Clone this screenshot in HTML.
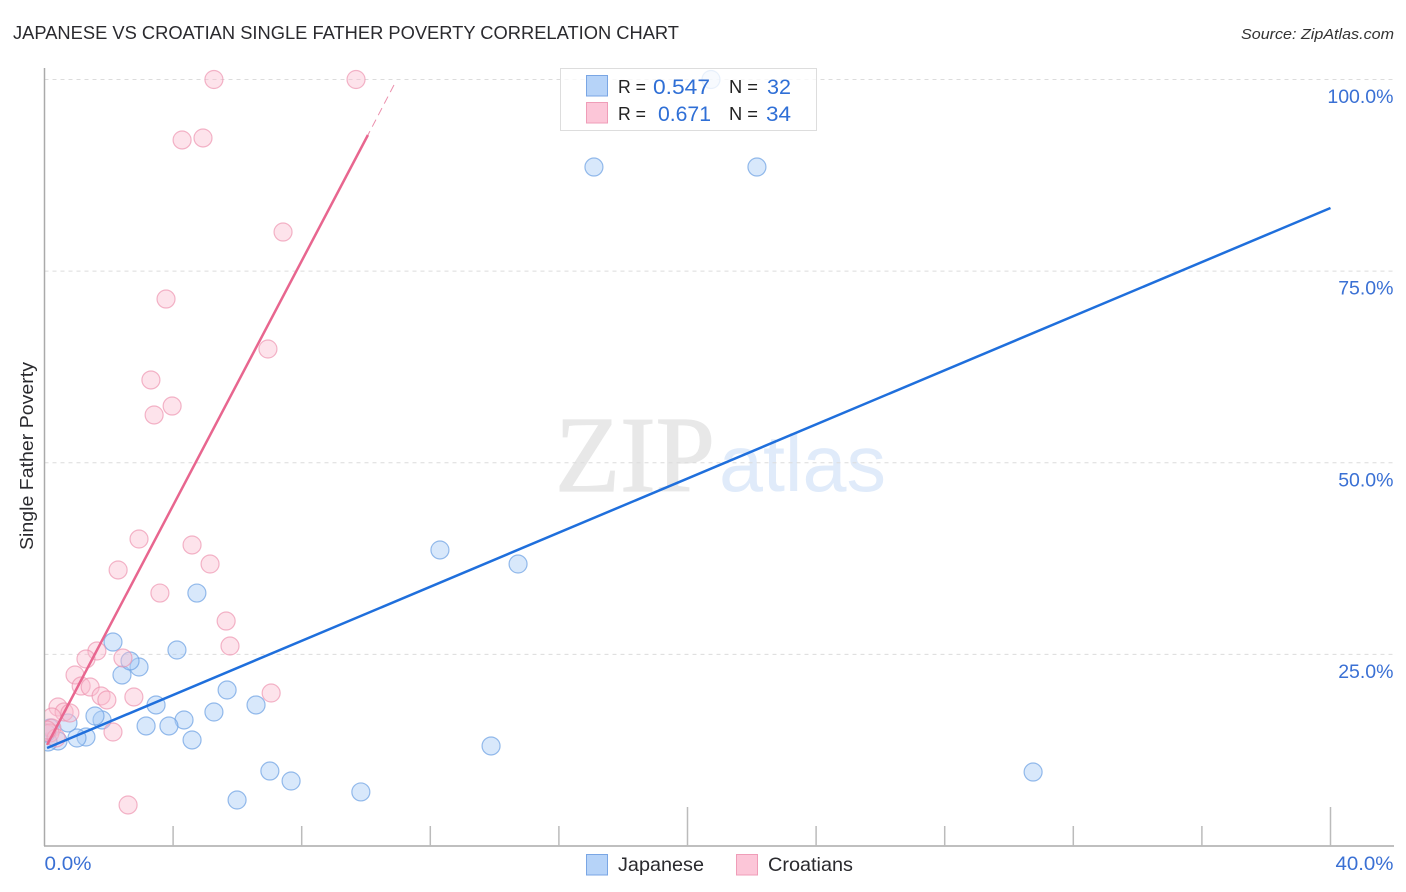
<!DOCTYPE html>
<html lang="en">
<head>
<meta charset="utf-8">
<title>Japanese vs Croatian Single Father Poverty Correlation Chart</title>
<style>
html,body{margin:0;padding:0;background:#fff;}
svg{display:block;font-family:"Liberation Sans",sans-serif;}
</style>
</head>
<body>
<svg id="chart" width="1406" height="892" viewBox="0 0 1406 892" xmlns="http://www.w3.org/2000/svg">
  <defs>
    <clipPath id="plot-clip"><rect x="45" y="60" width="1360" height="786"/></clipPath>
  </defs>
  <rect x="0" y="0" width="1406" height="892" fill="#ffffff"/>
  <text x="13" y="39" font-size="18.5" fill="#2a2a2e" textLength="666" lengthAdjust="spacingAndGlyphs">JAPANESE VS CROATIAN SINGLE FATHER POVERTY CORRELATION CHART</text>
  <text x="1394" y="39" font-size="15" font-style="italic" fill="#333" text-anchor="end" textLength="153" lengthAdjust="spacingAndGlyphs">Source: ZipAtlas.com</text>
  <text transform="translate(33,456) rotate(-90)" font-size="18.5" fill="#2a2a2e" text-anchor="middle" textLength="188" lengthAdjust="spacingAndGlyphs">Single Father Poverty</text>

  <g>
    <text x="555" y="491" style="font-family:'Liberation Serif',serif" font-size="108" fill="#e8e8e8" stroke="#e8e8e8" stroke-width="1.2" textLength="160" lengthAdjust="spacingAndGlyphs">ZIP</text>
    <text x="719" y="491" style="font-family:'Liberation Sans',sans-serif" font-size="80" fill="#e0ebfa" textLength="167" lengthAdjust="spacingAndGlyphs">atlas</text>
  </g>

  <g id="grid"></g>
  <g id="axes"></g>
  <g id="series-japanese" clip-path="url(#plot-clip)"></g>
  <g id="series-croatians" clip-path="url(#plot-clip)"></g>
  <g id="trends"></g>

  <g>
    <rect x="560.5" y="68.5" width="256" height="62" fill="#ffffff" fill-opacity="0.78" stroke="#dddddd" stroke-width="1"/>
    <rect x="586.5" y="75.5" width="21" height="20.5" fill="#b6d3f8" stroke="#7aa6e4" stroke-width="1"/>
    <rect x="586.5" y="102.5" width="21" height="20.5" fill="#fcc6d8" stroke="#ef9db8" stroke-width="1"/>
    <text x="618" y="93" font-size="18" fill="#222" textLength="28" lengthAdjust="spacingAndGlyphs">R =</text>
    <text x="653" y="94" font-size="21.5" fill="#2f6fd6" textLength="57" lengthAdjust="spacingAndGlyphs">0.547</text>
    <text x="729" y="93" font-size="18" fill="#222" textLength="29" lengthAdjust="spacingAndGlyphs">N =</text>
    <text x="767" y="94" font-size="21.5" fill="#2f6fd6" textLength="24" lengthAdjust="spacingAndGlyphs">32</text>
    <text x="618" y="120" font-size="18" fill="#222" textLength="28" lengthAdjust="spacingAndGlyphs">R =</text>
    <text x="658" y="121" font-size="21.5" fill="#2f6fd6" textLength="53" lengthAdjust="spacingAndGlyphs">0.671</text>
    <text x="729" y="120" font-size="18" fill="#222" textLength="29" lengthAdjust="spacingAndGlyphs">N =</text>
    <text x="766" y="121" font-size="21.5" fill="#2f6fd6" textLength="25" lengthAdjust="spacingAndGlyphs">34</text>
  </g>

  <g>
    <rect x="586.5" y="854.5" width="21" height="20.5" fill="#b6d3f8" stroke="#7aa6e4" stroke-width="1"/>
    <text x="618" y="871" font-size="19.5" fill="#2a2a2e" textLength="86" lengthAdjust="spacingAndGlyphs">Japanese</text>
    <rect x="736.5" y="854.5" width="21" height="20.5" fill="#fcc6d8" stroke="#ef9db8" stroke-width="1"/>
    <text x="768" y="871" font-size="19.5" fill="#2a2a2e" textLength="85" lengthAdjust="spacingAndGlyphs">Croatians</text>
  </g>
</svg>
<script>
var japaneseX = [17.09,22.16,20.73,12.30,14.73,30.75,13.89,9.84,7.67,7.01,5.99,6.58,5.68,5.27,4.59,4.34,3.87,3.16,3.47,4.74,4.12,2.94,2.41,2.66,2.13,1.79,1.57,1.29,1.01,0.73,0.42,0.11,0.17,0.05];
var japaneseY = [88.58,88.58,100,38.62,36.79,9.65,13.05,7.05,8.48,9.78,6.00,18.40,20.35,17.48,13.83,16.44,15.66,15.66,18.40,33.00,25.57,23.35,22.31,24.14,26.61,16.44,16.96,14.22,14.09,16.05,13.70,13.57,15.39,14.74];
var croatiansX = [5.27,9.69,4.28,4.93,7.42,3.78,6.95,3.31,3.97,3.41,2.94,4.59,5.15,2.29,3.59,5.65,5.77,1.63,1.29,2.44,0.95,1.14,1.42,1.76,1.94,2.78,7.05,0.42,0.61,0.79,2.13,2.60,0.23,0.23,0.17,0.36,0.08];
var croatiansY = [100,100,92.11,92.37,80.10,71.36,64.84,60.80,57.40,56.23,40.05,39.27,36.79,36.01,33.00,29.35,26.09,25.44,24.40,24.53,22.31,20.87,20.74,19.57,19.05,19.44,19.96,18.13,17.48,17.35,14.87,5.35,16.83,15.39,14.74,14.09,15.13];
var japaneseTrendX = [0.08,40];
var japaneseTrendY = [12.79,83.24];
var croatiansTrendX = [0.08,10.06];
var croatiansTrendY = [13.18,92.76];
var croatiansTrendExtX = [10.87,10.06];
var croatiansTrendExtY = [99.28,92.76];
var yTickValues = [100,75,50,25];
var yTickLabels = ["100.0%","75.0%","50.0%","25.0%"];
var xTickValues = [0,4,8,12,16,20,24,28,32,36,40];
var xMajorTicks = [20,40];
var xEndValues = [0,40];
var xEndLabels = ["0.0%","40.0%"];

var NS = 'http://www.w3.org/2000/svg';
function xScale(v){ return 44.5 + v * 32.15; }
function yScale(v){ return 846 - v * 7.665; }
function make(tag, parent, attrs){
  var el = document.createElementNS(NS, tag);
  for (var k in attrs) el.setAttribute(k, attrs[k]);
  parent.appendChild(el);
  return el;
}

var gridG = document.getElementById('grid');
yTickValues.forEach(function(v, i){
  var line = make('line', gridG, {x1:44.5, x2:1394, y1:yScale(v), y2:yScale(v), stroke:'#dcdcdc', 'stroke-width':1, 'stroke-dasharray':'4 4'});
  
  
  var label = make('text', gridG, {x:1393.5, y:yScale(v) + 23.5, 'font-size':19.5, fill:'#3a70d4', 'text-anchor':'end'});
  label.textContent = yTickLabels[i];
  
  
});

var axesG = document.getElementById('axes');
var yAxis = make('line', axesG, {x1:44.5, x2:44.5, y1:68, y2:846, stroke:'#aaaaaa', 'stroke-width':1.5});


var xAxis = make('line', axesG, {x1:44, x2:1394, y1:846, y2:846, stroke:'#aaaaaa', 'stroke-width':1.5});


xTickValues.forEach(function(v){
  if (v === 0) return;
  var top = xMajorTicks.indexOf(v) >= 0 ? 807 : 826;
  var tick = make('line', axesG, {x1:xScale(v), x2:xScale(v), y1:top, y2:846, stroke:'#bbbbbb', 'stroke-width':1.5});
  
  
});
xEndValues.forEach(function(v, i){
  var label = make('text', axesG, {x: i === 0 ? xScale(v) : 1393.5, y:870, 'font-size':19.5, fill:'#3a70d4', 'text-anchor': i === 0 ? 'start' : 'end', textLength: i === 0 ? 47 : 58, lengthAdjust:'spacingAndGlyphs'});
  label.textContent = xEndLabels[i];
  
  
});

var jG = document.getElementById('series-japanese');
japaneseX.forEach(function(x, i){
  var c = make('circle', jG, {cx:xScale(x), cy:yScale(japaneseY[i]), r:9, fill:'#a9cbf6', 'fill-opacity':0.45, stroke:'#6b9fe2', 'stroke-opacity':0.7, 'stroke-width':1.2});
  
  
});

var cG = document.getElementById('series-croatians');
croatiansX.forEach(function(x, i){
  var c = make('circle', cG, {cx:xScale(x), cy:yScale(croatiansY[i]), r:9, fill:'#fbbcd0', 'fill-opacity':0.42, stroke:'#ec8fac', 'stroke-opacity':0.65, 'stroke-width':1.2});
  
  
});

var tG = document.getElementById('trends');
var pinkLine = make('line', tG, {x1:xScale(croatiansTrendX[0]), y1:yScale(croatiansTrendY[0]), x2:xScale(croatiansTrendX[1]), y2:yScale(croatiansTrendY[1]), stroke:'#e8668f', 'stroke-width':2.5});


var pinkExt = make('line', tG, {x1:xScale(croatiansTrendExtX[0]), y1:yScale(croatiansTrendExtY[0]), x2:xScale(croatiansTrendExtX[1]), y2:yScale(croatiansTrendExtY[1]), stroke:'#eb8fac', 'stroke-width':1, 'stroke-dasharray':'8 5'});


var blueLine = make('line', tG, {x1:xScale(japaneseTrendX[0]), y1:yScale(japaneseTrendY[0]), x2:xScale(japaneseTrendX[1]), y2:yScale(japaneseTrendY[1]), stroke:'#1f6fdc', 'stroke-width':2.5});


</script>
</body>
</html>
